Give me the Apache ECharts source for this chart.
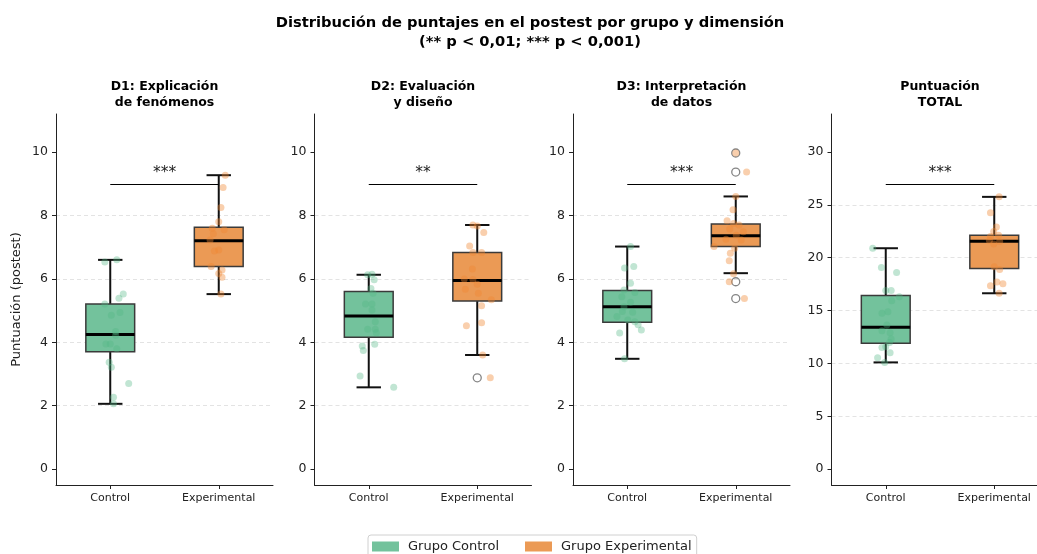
<!DOCTYPE html>
<html>
<head>
<meta charset="utf-8">
<script src="https://cdn.jsdelivr.net/npm/echarts@6/dist/echarts.min.js"></script>
<style>
  html, body { margin: 0; padding: 0; background: #fff; }
  #main { width: 1037px; height: 554px; }
</style>
</head>
<body>
<div id="main"></div>
<script>
// panel titles, groups
var panelTitles = ['D1: Explicación\nde fenómenos', 'D2: Evaluación\ny diseño', 'D3: Interpretación\nde datos', 'Puntuación\nTOTAL'];
var groups = ['Control', 'Experimental'];
var sigLabels = ['***', '**', '***', '***'];
var sigHeights = [9, 9, 9, 27];

// y axes
var yMins = [-0.5, -0.5, -0.5, -1.5];
var yMaxs = [11.2, 11.2, 11.2, 33.6];
var yTicks = [[0, 2, 4, 6, 8, 10], [0, 2, 4, 6, 8, 10], [0, 2, 4, 6, 8, 10], [0, 5, 10, 15, 20, 25, 30]];

// box stats: [min, q1, median, q3, max]
var ctrlStats = [[2.06, 3.70, 4.25, 5.21, 6.60], [2.58, 4.16, 4.83, 5.60, 6.13], [3.48, 4.63, 5.12, 5.63, 7.02], [10.10, 11.90, 13.42, 16.42, 20.90]];
var expStats = [[5.52, 6.39, 7.20, 7.63, 9.27], [3.60, 5.30, 5.95, 6.83, 7.70], [6.18, 7.02, 7.36, 7.73, 8.60], [16.64, 18.98, 21.57, 22.13, 25.76]];

// outliers (fliers) of the experimental group
var d1ExpOut = [];
var d2ExpOut = [2.88];
var d3ExpOut = [9.97, 9.37, 5.91, 5.38];
var totExpOut = [];

// individual scores: [jitter, score]
var d1Ctrl = [[-0.05, 6.53], [0.06, 6.60], [0.12, 5.52], [0.08, 5.39], [-0.05, 5.21], [0.01, 4.85], [0.09, 4.94], [0.05, 4.34], [0.05, 4.22], [-0.04, 3.95], [0.0, 3.95], [0.06, 3.80], [-0.01, 3.37], [0.01, 3.21], [0.17, 2.70], [0.03, 2.27], [0.03, 2.06]];
var d1Exp = [[0.06, 9.27], [0.04, 8.88], [0.02, 8.25], [0.0, 7.80], [-0.06, 7.60], [0.05, 7.55], [-0.05, 7.42], [-0.08, 7.23], [0.0, 6.91], [-0.04, 6.88], [-0.07, 6.39], [0.03, 6.28], [0.0, 6.17], [0.03, 6.05], [0.02, 5.52]];
var d2Ctrl = [[-0.01, 6.13], [0.03, 6.15], [0.05, 5.97], [0.02, 5.70], [0.04, 5.55], [-0.03, 5.21], [0.03, 5.21], [0.03, 5.02], [0.06, 4.65], [-0.01, 4.41], [0.06, 4.41], [0.07, 4.30], [0.055, 3.94], [-0.06, 3.88], [-0.05, 3.74], [-0.08, 2.94], [0.23, 2.58]];
var d2Exp = [[-0.04, 7.70], [0.0, 7.67], [0.06, 7.46], [-0.07, 7.04], [-0.04, 6.83], [0.04, 6.83], [-0.045, 6.31], [-0.12, 6.00], [-0.04, 5.98], [0.0, 5.83], [-0.11, 5.67], [0.01, 5.55], [0.13, 5.34], [0.04, 5.15], [0.04, 4.62], [-0.1, 4.52], [0.05, 3.60], [0.12, 2.88]];
var d3Ctrl = [[0.03, 7.02], [-0.025, 6.34], [0.06, 6.39], [0.03, 5.86], [-0.03, 5.65], [0.07, 5.57], [-0.05, 5.44], [0.03, 5.26], [-0.03, 5.12], [-0.045, 4.97], [0.05, 4.95], [-0.095, 4.81], [0.005, 4.70], [0.07, 4.65], [0.1, 4.55], [0.13, 4.39], [-0.07, 4.29], [-0.025, 3.48]];
var d3Exp = [[0.0, 9.97], [0.1, 9.37], [0.0, 8.60], [-0.025, 8.18], [-0.08, 7.83], [-0.02, 7.75], [0.03, 7.70], [-0.055, 7.57], [0.07, 7.49], [0.005, 7.38], [-0.09, 7.25], [0.05, 7.23], [-0.2, 7.02], [-0.01, 6.97], [-0.05, 6.81], [-0.06, 6.57], [-0.02, 6.16], [-0.06, 5.91], [0.08, 5.38]];
var totCtrl = [[-0.12, 20.90], [-0.04, 19.07], [0.1, 18.60], [0.05, 16.89], [0.0, 16.89], [0.125, 16.32], [0.055, 15.94], [0.02, 14.90], [-0.035, 14.75], [0.01, 13.64], [-0.035, 13.10], [0.04, 12.91], [0.05, 12.31], [0.035, 11.99], [0.0, 11.58], [-0.035, 11.50], [0.04, 11.02], [-0.075, 10.55], [-0.01, 10.08]];
var totExp = [[0.045, 25.76], [-0.035, 24.25], [0.02, 22.90], [-0.005, 22.48], [-0.035, 22.00], [0.04, 22.13], [-0.045, 21.63], [0.05, 21.53], [-0.005, 21.31], [0.0, 19.16], [0.05, 18.90], [0.025, 17.71], [0.08, 17.55], [-0.035, 17.36], [0.045, 16.64]];

var ctrlPoints = [d1Ctrl, d2Ctrl, d3Ctrl, totCtrl];
var expPoints = [d1Exp, d2Exp, d3Exp, totExp];
var expOutliers = [d1ExpOut, d2ExpOut, d3ExpOut, totExpOut];

var FONT = 'DejaVu Sans';
var GREEN = '#73c29c', ORANGE = '#eb9a55';
var GREEN_PT = 'rgba(82,184,134,0.45)', ORANGE_PT = 'rgba(240,134,50,0.5)';
var gridLefts = [56, 314.5, 573, 831.5];
var gridW = 217, gridTop = 114, gridH = 371;
var BOX_W = 0.45;

// box + whiskers + caps + median
function renderBox(params, api) {
  var x = api.value(0);
  var half = BOX_W / 2;
  var lo = api.coord([x - half, api.value(2)]);
  var hi = api.coord([x + half, api.value(4)]);
  var pMin = api.coord([x, api.value(1)]);
  var pMax = api.coord([x, api.value(5)]);
  var pMed = api.coord([x, api.value(3)]);
  var capL = api.coord([x - half / 2, 0])[0];
  var capR = api.coord([x + half / 2, 0])[0];
  var ws = { stroke: '#111', lineWidth: 2 };
  return {
    type: 'group',
    children: [
      { type: 'line', shape: { x1: pMin[0], y1: pMin[1], x2: pMin[0], y2: lo[1] }, style: ws },
      { type: 'line', shape: { x1: pMax[0], y1: pMax[1], x2: pMax[0], y2: hi[1] }, style: ws },
      { type: 'line', shape: { x1: capL, y1: pMin[1], x2: capR, y2: pMin[1] }, style: ws },
      { type: 'line', shape: { x1: capL, y1: pMax[1], x2: capR, y2: pMax[1] }, style: ws },
      { type: 'rect', shape: { x: lo[0], y: hi[1], width: hi[0] - lo[0], height: lo[1] - hi[1] },
        style: { fill: api.visual('color'), stroke: '#3a3a3a', lineWidth: 1.5 } },
      { type: 'line', shape: { x1: lo[0], y1: pMed[1], x2: hi[0], y2: pMed[1] }, style: { stroke: '#000', lineWidth: 3 } }
    ]
  };
}

var grids = [], xAxes = [], yAxes = [], series = [], graphics = [];

graphics.push({
  type: 'text', x: 530, y: 13,
  style: { text: 'Distribución de puntajes en el postest por grupo y dimensión\n(** p < 0,01; *** p < 0,001)',
    textAlign: 'center', textVerticalAlign: 'top', fontFamily: FONT, fontSize: 14.7, fontWeight: 'bold', lineHeight: 19.5, fill: '#000' }
});

for (var i = 0; i < 4; i++) {
  grids.push({ left: gridLefts[i], top: gridTop, width: gridW, height: gridH, outerBoundsMode: 'none', containLabel: false });

  graphics.push({
    type: 'text', x: gridLefts[i] + gridW / 2, y: 79,
    style: { text: panelTitles[i], textAlign: 'center', textVerticalAlign: 'top', fontFamily: FONT,
      fontSize: 12.5, fontWeight: 'bold', lineHeight: 15.5, fill: '#000' }
  });

  // visible category axis
  xAxes.push({
    type: 'category', gridIndex: i, data: groups, boundaryGap: true,
    axisLine: { show: true, onZero: false, lineStyle: { color: '#222', width: 1 } },
    axisTick: { show: true, alignWithLabel: true, length: 4, lineStyle: { color: '#222' } },
    axisLabel: { color: '#222', fontSize: 11, fontFamily: FONT, margin: 8 },
    splitLine: { show: false }
  });
  // hidden value axis for marks
  xAxes.push({ type: 'value', gridIndex: i, min: -0.5, max: 1.5, show: false });

  yAxes.push({
    type: 'value', gridIndex: i, min: yMins[i], max: yMaxs[i], splitNumber: i === 3 ? 7 : 5,
    name: i === 0 ? 'Puntuación (postest)' : '', nameLocation: 'middle', nameGap: 33, nameRotate: 90,
    nameTextStyle: { color: '#222', fontSize: 13, fontFamily: FONT },
    axisLine: { show: true, onZero: false, lineStyle: { color: '#222', width: 1 } },
    axisTick: { show: true, length: 4, customValues: yTicks[i], lineStyle: { color: '#222' } },
    axisLabel: { color: '#222', fontSize: 12.5, fontFamily: FONT, margin: 8, customValues: yTicks[i] },
    splitLine: { show: true, showMinLine: false, showMaxLine: false, lineStyle: { color: '#dcdcdc', width: 0.8, type: [4, 3] } }
  });

  var xi = i * 2 + 1;
  series.push({
    name: 'Grupo Control', type: 'custom', xAxisIndex: xi, yAxisIndex: i,
    itemStyle: { color: GREEN }, renderItem: renderBox, silent: true,
    encode: { x: 0, y: [1, 2, 3, 4, 5] },
    data: [[0].concat(ctrlStats[i])]
  });
  series.push({
    name: 'Grupo Experimental', type: 'custom', xAxisIndex: xi, yAxisIndex: i,
    itemStyle: { color: ORANGE }, renderItem: renderBox, silent: true,
    encode: { x: 0, y: [1, 2, 3, 4, 5] },
    data: [[1].concat(expStats[i])]
  });
  series.push({
    type: 'scatter', xAxisIndex: xi, yAxisIndex: i, silent: true, symbolSize: 8,
    itemStyle: { color: 'rgba(0,0,0,0)', borderColor: '#666', borderWidth: 1.3 },
    data: expOutliers[i].map(function (v) { return [1, v]; })
  });
  series.push({
    type: 'scatter', xAxisIndex: xi, yAxisIndex: i, silent: true, symbolSize: 7,
    itemStyle: { color: GREEN_PT },
    data: ctrlPoints[i].map(function (p) { return [0 + p[0], p[1]]; })
  });
  series.push({
    type: 'scatter', xAxisIndex: xi, yAxisIndex: i, silent: true, symbolSize: 7,
    itemStyle: { color: ORANGE_PT },
    data: expPoints[i].map(function (p) { return [1 + p[0], p[1]]; })
  });
  // significance bar
  series.push({
    type: 'line', xAxisIndex: xi, yAxisIndex: i, data: [], silent: true,
    markLine: {
      symbol: 'none', silent: true,
      lineStyle: { color: '#000', width: 1, type: 'solid' },
      label: { show: true, position: 'middle', formatter: sigLabels[i], color: '#222', fontSize: 15.5, fontFamily: FONT, distance: 3 },
      data: [[{ coord: [0, sigHeights[i]] }, { coord: [1, sigHeights[i]] }]]
    }
  });
}

var chart = echarts.init(document.getElementById('main'), null, { renderer: 'canvas' });
chart.setOption({
  backgroundColor: '#fff',
  animation: false,
  textStyle: { fontFamily: FONT },
  grid: grids,
  xAxis: xAxes,
  yAxis: yAxes,
  legend: {
    data: [
      { name: 'Grupo Control', itemStyle: { color: GREEN } },
      { name: 'Grupo Experimental', itemStyle: { color: ORANGE } }
    ],
    left: 368, top: 535, icon: 'rect', itemWidth: 27, itemHeight: 10, itemGap: 26,
    selectedMode: false, borderColor: '#d0d0d0', borderWidth: 1, borderRadius: 3, padding: [5, 5, 5, 4],
    textStyle: { fontSize: 13, color: '#222', fontFamily: FONT, padding: [0, 0, 0, 4] }
  },
  graphic: graphics,
  series: series
});
</script>
</body>
</html>
